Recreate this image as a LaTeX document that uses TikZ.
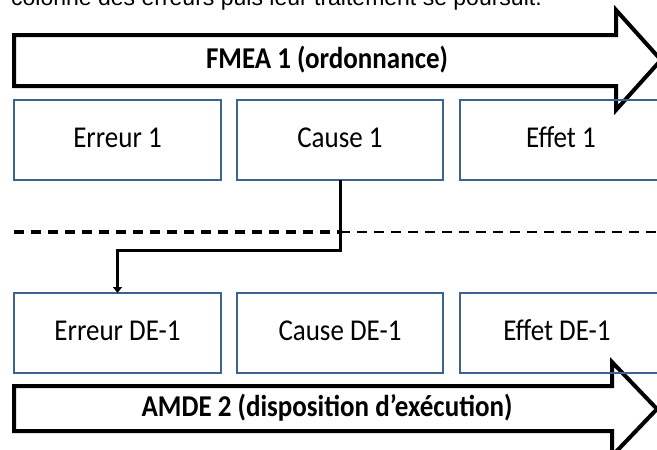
\documentclass[tikz,border=0pt]{standalone}
\usepackage{fontspec}
\setmainfont{Carlito}
\newfontfamily\arialf{Liberation Sans}
\usetikzlibrary{arrows.meta}
\definecolor{boxblue}{RGB}{62,98,146}
\newcommand{\tallt}[1]{\scalebox{1}[1.12]{#1}}
\tikzset{
  fbox/.style={draw=boxblue, line width=2.6pt, minimum height=80pt, outer sep=0pt, inner sep=0pt, font=\fontsize{27}{30}\selectfont, text height=21pt, text depth=7pt},
  ftext/.style={inner sep=0pt, font=\fontsize{27}{30}\selectfont, text height=21pt, text depth=7pt},
  bigarrow/.style={draw=black, line width=4pt, fill=white, line join=miter},
  conn/.style={draw=black, line width=3pt, -{Triangle[width=9pt,length=6pt]}},
  sep/.style={draw=black, dash pattern=on 10pt off 7pt},
  arrowlabel/.style={font=\bfseries\fontsize{27}{30}\selectfont}
}
\begin{document}
\begin{tikzpicture}[x=1pt,y=-1pt]
\useasboundingbox (0,0) rectangle (657,450);
\clip (0,0) rectangle (657,450);
% cut-off line of text at the top
\node[anchor=base west, inner sep=0pt, font=\arialf\fontsize{23}{26}\selectfont] (toptext) at (11,5) {colonne des erreurs puis leur traitement se poursuit.};
% top arrow
\draw[bigarrow] (14,35) -- (616,35) -- (616,10) -- (661,60) -- (616,110) -- (616,86) -- (14,86) -- cycle;
\node[arrowlabel] (fmea) at (327,60) {\tallt{FMEA 1 (ordonnance)}};
% bottom arrow
\draw[bigarrow] (14,386) -- (612,386) -- (612,362) -- (657,409) -- (612,456) -- (612,431) -- (14,431) -- cycle;
\node[arrowlabel] (amde) at (327,408) {\tallt{AMDE 2 (disposition d’exécution)}};
% row 1
\node[fbox, minimum width=207pt] (e1) at (117.5,140) {\tallt{Erreur 1}};
\node[fbox, minimum width=206pt] (c1) at (340,140) {\tallt{Cause 1}};
\node[fbox, minimum width=204pt] (f1) at (562,140) {};
\node[ftext] (f1t) at (561,140) {\tallt{Effet 1}};
% row 2
\node[fbox, minimum width=207pt] (e2) at (117.5,333) {\tallt{Erreur DE-1}};
\node[fbox, minimum width=206pt] (c2) at (340,333) {\tallt{Cause DE-1}};
\node[fbox, minimum width=204pt] (f2) at (562,333) {};
\node[ftext] (f2t) at (557,333) {\tallt{Effet DE-1}};
% separator
\coordinate (sl) at (14,232);
\coordinate (sm) at (340,232);
\coordinate (sr) at (657,232);
\draw[sep, line width=3.6pt] (sl) -- (sm);
\draw[sep, line width=2.6pt] (sm) -- (sr);
% connector
\coordinate (bend) at (117.5,250);
\draw[conn] (c1.south) |- (bend) -- (e2.north);
\end{tikzpicture}
\end{document}
